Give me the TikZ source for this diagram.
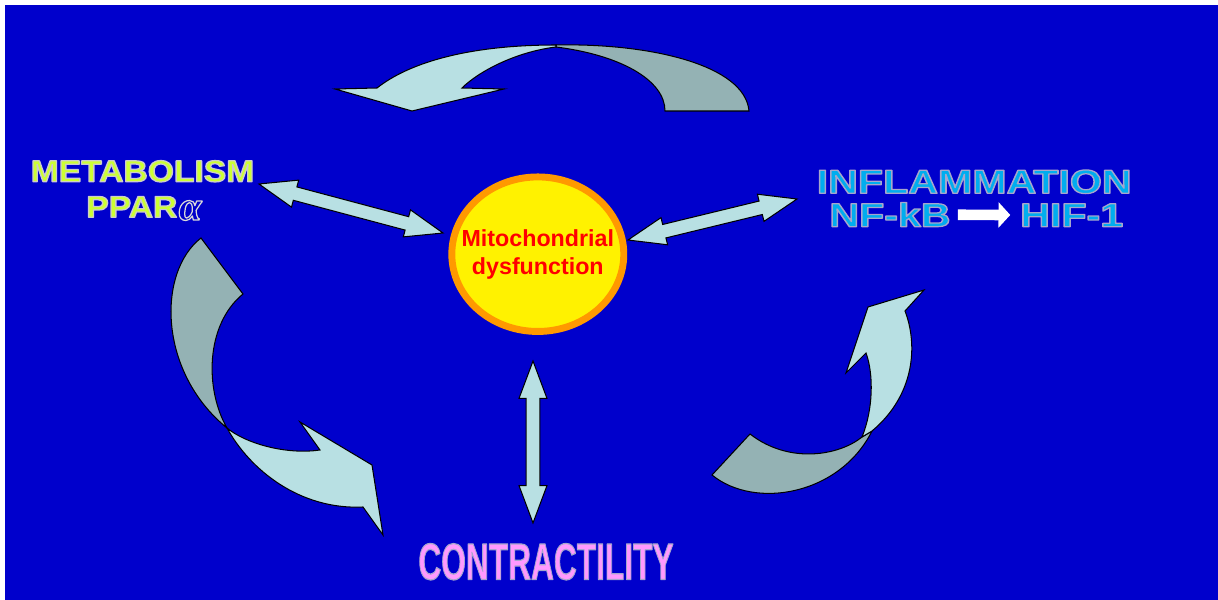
\documentclass[tikz,border=0pt]{standalone}
\usepackage{fontspec}
\setmainfont{Liberation Sans}
\newfontfamily\grk{Liberation Serif}
\usepackage{graphicx}
\usepackage{tikz}
\usetikzlibrary{arrows.meta,calc,shapes.geometric}

\definecolor{bg}{HTML}{0000CC}
\definecolor{lite}{HTML}{B8E0E3}
\definecolor{dark}{HTML}{94B2B4}
\definecolor{limegr}{HTML}{CCFF33}
\definecolor{pinktx}{HTML}{FF99FF}
\definecolor{orng}{HTML}{FF9900}

% fill with #1, outline stroked in rgb #2
\newcommand\shtxt[3]{{\color{#1}\special{pdf:literal direct #2 RG 0.9 w 1 j 2 Tr}#3\special{pdf:literal direct 0 Tr}}}
\newcommand\dblarr[2]{%
  \draw[blk] (#1) -- ($(#1)!27pt!(#2)!10.1pt!90:(#2)$) -- ($(#1)!27pt!(#2)!5pt!90:(#2)$)
    -- ($(#2)!27pt!(#1)!5pt!-90:(#1)$) -- ($(#2)!27pt!(#1)!10.1pt!-90:(#1)$) -- (#2)
    -- ($(#2)!27pt!(#1)!10.1pt!90:(#1)$) -- ($(#2)!27pt!(#1)!5pt!90:(#1)$)
    -- ($(#1)!27pt!(#2)!5pt!-90:(#2)$) -- ($(#1)!27pt!(#2)!10.1pt!-90:(#2)$) -- cycle;}

\begin{document}
\begin{tikzpicture}[x=0.0254cm, y=-0.0254cm,
    ttl/.style={inner sep=0pt, anchor=base},
    meta/.style={ttl, font=\bfseries\fontsize{21.9}{24}\selectfont},
    infl/.style={ttl, font=\bfseries\fontsize{24.2}{26}\selectfont},
    mitoc/.style={ellipse, draw=orng, line width=5pt, fill=yellow,
                  minimum width=124.3pt, minimum height=111.7pt, inner sep=0pt},
    mitotx/.style={align=center, text=red, inner sep=0pt,
                   font=\bfseries\fontsize{16.8}{20}\selectfont},
    blk/.style={draw=black, fill=lite, line width=0.75pt, line join=miter},
    frface/.style={draw=black, fill=lite, line width=0.75pt},
    bkface/.style={draw=black, fill=dark, line width=0.75pt},
    warr/.style={white, line width=7.7pt, -{Triangle[length=8.5pt, width=18pt]},
                 shorten <=5pt, shorten >=7pt},
  ]
  \useasboundingbox (0,0) rectangle (1218,600);
  \fill[bg] (5,5) rectangle (1218,600);

  \draw[bkface] (556,45) .. controls (650,43) and (745,65) .. (749,111) -- (665,111)
    .. controls (665,80) and (620,55) .. (556,47) -- cycle;
  \draw[frface] (556,45) .. controls (470,45) and (410,62) .. (377,88) -- (335,89) -- (412,111)
    -- (504,89) -- (462,88) .. controls (478,72) and (515,52) .. (556,47) -- cycle;

  \draw[bkface] (201,238) .. controls (157,272) and (158,372) .. (227,428)
    .. controls (205,390) and (205,325) .. (243,294) -- cycle;
  \draw[frface] (227,428) .. controls (250,470) and (300,510) .. (363,507) -- (383,535)
    -- (372,465) -- (300,422) -- (320,450) .. controls (285,455) and (245,443) .. (227,428) -- cycle;

  \draw[bkface] (712,475) .. controls (755,510) and (840,495) .. (872,431) -- (862,437)
    .. controls (840,455) and (790,465) .. (750,434) -- cycle;
  \draw[frface] (862,437) .. controls (873,410) and (874,375) .. (866,353) -- (846,373)
    -- (868,307) -- (924,290) -- (905,311) .. controls (918,345) and (915,395) .. (872,431) -- cycle;

  \node[meta] (metab) at (142.5,181.7) {\scalebox{1.11}[1]{\shtxt{limegr}{0.8 0.8 0.8}{METABOLISM}}};
  \node[meta] (ppar) at (144,217.3) {\scalebox{1.11}[1]{\shtxt{limegr}{0.8 0.8 0.8}{PPAR}}\kern1pt{\grk\itshape\fontsize{30}{30}\selectfont\shtxt{bg}{0.85 0.85 0.85}{\raisebox{-2pt}{α}}}};
  \node[infl] (inflam) at (974.2,193.3) {\scalebox{1.23}[1]{\shtxt{cyan}{0.65 0.65 0.8}{INFLAMMATION}}};
  \node[infl] (nfkb) at (890,226.7) {\scalebox{1.23}[1]{\shtxt{cyan}{0.65 0.65 0.8}{NF-kB}}};
  \node[infl] (hif) at (1071.7,226.7) {\scalebox{1.23}[1]{\shtxt{cyan}{0.65 0.65 0.8}{HIF-1}}};
  \node[ttl, font=\bfseries\fontsize{37.3}{40}\selectfont] (contr) at (546,579.5)
    {\scalebox{0.614}[1]{\shtxt{pinktx}{0.65 0.65 0.8}{CONTRACTILITY}}};
  \node[mitoc] (mito) at (537.8,254.2) {};
  \node[mitotx] (mitotx) at (mito) {Mitochondrial\\dysfunction};

  \draw[warr] (nfkb) -- (hif);

  \coordinate (metaTip) at (259,184);
  \coordinate (mitoW) at (443,233);
  \coordinate (mitoE) at (628,240);
  \coordinate (inflTip) at (797,199);
  \coordinate (mitoS) at (533,361);
  \coordinate (contrTip) at (533,523);
  \dblarr{metaTip}{mitoW}
  \dblarr{mitoE}{inflTip}
  \dblarr{mitoS}{contrTip}
\end{tikzpicture}
\end{document}
